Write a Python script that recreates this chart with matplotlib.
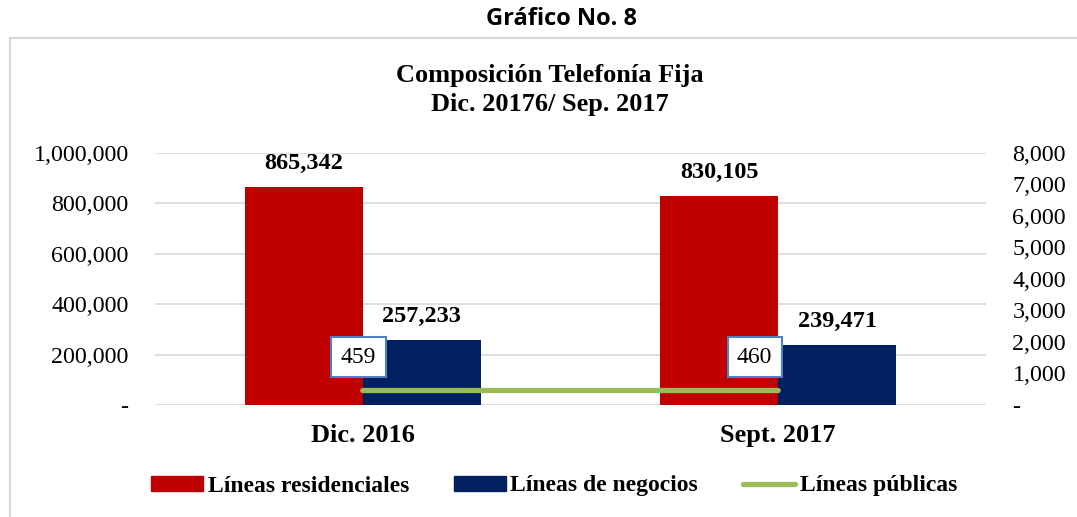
import matplotlib
matplotlib.use("Agg")
import matplotlib.pyplot as plt
import matplotlib.patches as mpatches
from matplotlib.lines import Line2D
from matplotlib.ticker import FuncFormatter, MultipleLocator
import numpy as np

categories = ["Dic. 2016", "Sept. 2017"]
residenciales = [865342, 830105]
negocios = [257233, 239471]
publicas = [459, 460]
series_names = ["Líneas residenciales", "Líneas de negocios", "Líneas públicas"]

RED = "#C00000"
BLUE = "#002060"
GREEN = "#9BBB59"
GRID = "#D9D9D9"
SERIF = "Liberation Serif"

fig = plt.figure(figsize=(10.77, 5.17), dpi=100)

# outer frame
frame = mpatches.Rectangle((10 / 1077, -0.05), 1.2, 1 - 38 / 517 + 0.05,
                           transform=fig.transFigure, fill=False,
                           edgecolor=GRID, linewidth=1.5, clip_on=False)
fig.patches.append(frame)

fig.text(561 / 1077, 1 - 19 / 517, "Gráfico No. 8", ha="center", va="center",
         fontsize=17, fontweight="bold", family="Open Sans")
fig.text(550 / 1077, 1 - 90 / 517, "Composición Telefonía Fija\nDic. 20176/ Sep. 2017",
         ha="center", va="center", fontsize=19, fontweight="bold", family=SERIF,
         linespacing=1.3)

ax = fig.add_axes([155 / 1077, 1 - 405 / 517, (986 - 155) / 1077, (405 - 152.7) / 517])
x = np.arange(len(categories))
w = 0.284
b1 = ax.bar(x - w / 2, residenciales, w, color=RED, zorder=2)
b2 = ax.bar(x + w / 2, negocios, w, color=BLUE, zorder=2)
ax.set_xlim(-0.5, 1.5)
ax.set_ylim(0, 1000000)
ax.yaxis.set_major_locator(MultipleLocator(200000))
fmt = lambda v, p: "-" if v == 0 else f"{int(v):,}"
ax.yaxis.set_major_formatter(FuncFormatter(fmt))
ax.grid(axis="y", color=GRID, linewidth=1.2, zorder=0)
ax.set_axisbelow(True)
for s in ax.spines.values():
    s.set_visible(False)
ax.tick_params(axis="y", length=0, pad=19, labelsize=17.3)
ax.tick_params(axis="x", length=0, pad=14, labelsize=19)
for lbl in ax.get_yticklabels():
    lbl.set_family(SERIF)
ax.set_xticks(x)
ax.set_xticklabels(categories, family=SERIF, fontweight="bold")

for bars, vals in ((b1, residenciales), (b2, negocios)):
    for r, v in zip(bars, vals):
        ax.annotate(f"{v:,}", (r.get_x() + r.get_width() / 2, v), xytext=(0, 17),
                    textcoords="offset points", ha="center", va="center",
                    fontsize=17.5, fontweight="bold", family=SERIF)

ax2 = ax.twinx()
ax2.set_ylim(0, 8000)
ax2.yaxis.set_major_locator(MultipleLocator(1000))
ax2.yaxis.set_major_formatter(FuncFormatter(fmt))
for s in ax2.spines.values():
    s.set_visible(False)
ax2.tick_params(axis="y", length=0, pad=19, labelsize=17.3)
for lbl in ax2.get_yticklabels():
    lbl.set_family(SERIF)
ax2.plot(x, publicas, color=GREEN, linewidth=3.8, solid_capstyle="round", zorder=3)
offsets = [(-3, 24), (-17, 24)]
for xi, v, off in zip(x, publicas, offsets):
    ax2.annotate(f"{v:,}", (xi, v), xytext=off, textcoords="offset points",
                 ha="center", va="center", fontsize=17, family=SERIF,
                 bbox=dict(boxstyle="square,pad=0.4", facecolor="white",
                           edgecolor="#4F81BD", linewidth=1.5))

handles = [mpatches.Patch(color=RED), mpatches.Patch(color=BLUE),
           Line2D([0], [0], color=GREEN, linewidth=3.8, solid_capstyle="round")]
fig.legend(handles, series_names, loc="center", bbox_to_anchor=(554 / 1077, 1 - 486 / 517),
           ncol=3, frameon=False, prop=dict(family=SERIF, weight="bold", size=17),
           handlelength=2.2, handleheight=0.6, handletextpad=0.2, columnspacing=1.9)

fig.savefig("out.png", dpi=100)
